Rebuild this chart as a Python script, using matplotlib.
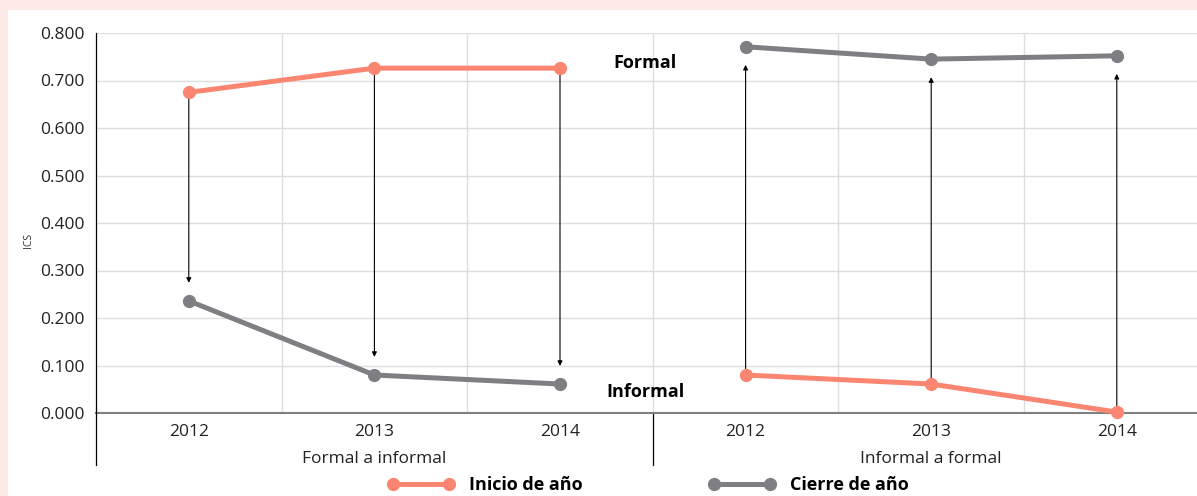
import numpy as np
import matplotlib
matplotlib.use('Agg')
from matplotlib import pyplot as plt
from matplotlib.patches import Rectangle
from matplotlib.lines import Line2D
import matplotlib.transforms as mtransforms

plt.rcParams['font.family'] = ['Open Sans', 'DejaVu Sans']

groups = ['Formal a informal', 'Informal a formal']
years = ['2012', '2013', '2014']
inicio = [0.675, 0.726, 0.726, 0.080, 0.061, 0.002]
cierre = [0.236, 0.080, 0.061, 0.771, 0.745, 0.752]
yticks = [0.0, 0.1, 0.2, 0.3, 0.4, 0.5, 0.6, 0.7, 0.8]

c_inicio = '#fa8672'
c_cierre = '#7f7f83'

W, H = 1197, 496
fig = plt.figure(figsize=(W / 100, H / 100), dpi=100, facecolor='#fdeae6')
fig.patches.append(Rectangle((8 / W, 0), 1, (H - 10) / H, transform=fig.transFigure,
                             facecolor='white', edgecolor='none', zorder=-5))

step = 185.6
ax = fig.add_axes([96 / W, (H - 413) / H, 6 * step / W, 380 / H])
ax.set_facecolor('none')
x = np.arange(6)

ax.set_xlim(-0.5, 5.5)
ax.set_ylim(0, 0.8)
ax.set_yticks(yticks)
ax.set_yticklabels(['%.3f' % v for v in yticks], fontsize=12.5, color='#222222')
ax.set_xticks(x)
ax.set_xticklabels(years * 2, fontsize=12.5, color='#222222')
ax.tick_params(length=0, pad=8)
ax.tick_params(axis='y', pad=8)

for v in yticks[1:]:
    ax.axhline(v, color='#dedede', lw=1, zorder=1)
for b in np.arange(0.5, 5, 1.0):
    ax.axvline(b, color='#dedede', lw=1, zorder=1)

for s in ['top', 'right']:
    ax.spines[s].set_visible(False)
ax.spines['left'].set_color('black')
ax.spines['left'].set_linewidth(0.9)
ax.spines['bottom'].set_color('#808080')
ax.spines['bottom'].set_linewidth(1.5)
ax.spines['bottom'].set_zorder(2)

# separators below axis
trans = mtransforms.blended_transform_factory(ax.transData, ax.transAxes)
for b in [-0.5, 2.5]:
    ax.add_line(Line2D([b, b], [0, -52 / 380], transform=trans, color='black', lw=0.9, clip_on=False))
for i, g in enumerate(groups):
    ax.text(3 * i + 1, -46 / 380, g, transform=trans, ha='center', va='center', fontsize=12.5, color='#222222')

# arrows
for i in range(6):
    ax.annotate('', xy=(x[i], cierre[i]), xytext=(x[i], inicio[i]),
                arrowprops=dict(arrowstyle='-|>', color='black', lw=0.8, shrinkA=0, shrinkB=13,
                                mutation_scale=7), zorder=3)

ax.plot(x[:3], inicio[:3], color=c_inicio, lw=3.6, marker='o', ms=8.5, zorder=4, label='Inicio de año', clip_on=False)
ax.plot(x[3:], inicio[3:], color=c_inicio, lw=3.6, marker='o', ms=8.5, zorder=4, clip_on=False)
ax.plot(x[:3], cierre[:3], color=c_cierre, lw=3.6, marker='o', ms=8.5, zorder=4, label='Cierre de año', clip_on=False)
ax.plot(x[3:], cierre[3:], color=c_cierre, lw=3.6, marker='o', ms=8.5, zorder=4, clip_on=False)

ax.text(2.46, 0.737, 'Formal', ha='center', va='center', fontsize=13, fontweight='bold')
ax.text(2.46, 0.044, 'Informal', ha='center', va='center', fontsize=13, fontweight='bold')

fig.text(28 / W, 1 - 240 / H, 'ICS', rotation=90, ha='center', va='center', fontsize=7.5, color='#333333')

leg = fig.legend(loc='center', bbox_to_anchor=(648 / W, 1 - 485 / H), ncol=2, frameon=False,
                 numpoints=2, handlelength=3.7, columnspacing=7.0, handletextpad=0.8,
                 prop={'size': 13, 'weight': 'bold'})

fig.savefig('out.png', dpi=100, facecolor=fig.get_facecolor())
